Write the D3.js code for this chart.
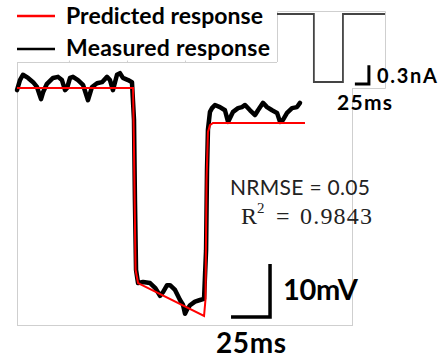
<!DOCTYPE html>
<meta charset="utf-8">

<style type="text/css">
	body { margin: 0; background: #fff; }
	svg { display: block; }
	.bold { font-family: Lato, "Open Sans", sans-serif; font-weight: 700; fill: #000; }
	.box { fill: none; stroke: #cfcfcf; stroke-width: 1; }
</style>

<body>
</body>

<script src="https://d3js.org/d3.v7.min.js"></script>

<script>

	// measured trace: time (ms) and membrane potential (mV)
	var measuredT = [0, 1.9, 3.8, 7.1, 10.3, 12.8, 15.4, 16.7, 19.2, 23.1, 26.3, 28.8, 30.8, 32.1, 34.0, 35.9, 39.1, 42.3, 45.5, 48.1,
		51.3, 54.5, 57.7, 59.6, 61.5, 64.1, 66.0, 67.9, 71.2, 73.7, 75.0, 75.6, 76.3, 77.6, 80.8, 85.3, 88.5, 91.7, 93.6, 96.2,
		98.1, 101.3, 104.5, 106.4, 107.7, 109.0, 110.9, 114.1, 117.3, 119.9, 121.2, 121.8, 122.4, 123.7, 125.0, 126.9, 130.1, 133.3, 135.3, 138.5,
		141.7, 144.2, 146.2, 149.4, 152.6, 154.5, 157.7, 160.3, 163.5, 166.7, 168.6, 170.5, 173.1, 176.3, 179.5, 181.4];
	var measuredV = [-65.4, -63.5, -62.5, -63.1, -63.9, -64.8, -67.1, -65.8, -64.2, -63.1, -62.9, -63.5, -65.4, -65.0, -63.1, -62.9, -63.5, -64.4, -67.3, -64.8,
		-64.1, -63.9, -62.9, -63.5, -65.4, -62.5, -62.2, -63.1, -63.5, -63.9, -71.0, -86.1, -99.3, -101.8, -101.6, -101.8, -102.7, -104.2, -103.5, -102.2,
		-102.2, -103.1, -105.0, -105.9, -107.6, -106.8, -106.0, -105.3, -105.0, -104.8, -95.6, -80.5, -72.9, -69.5, -68.8, -68.2, -68.6, -69.2, -71.4, -69.5,
		-68.8, -68.6, -68.2, -69.2, -70.1, -69.2, -67.8, -68.6, -69.2, -69.7, -71.4, -71.0, -69.7, -68.8, -68.6, -67.8];

	// predicted trace
	var predictedT = [0, 74.4, 75.0, 76.0, 77.6, 119.9, 120.8, 121.5, 122.4, 123.7, 125.6, 184.6];
	var predictedV = [-65, -65, -76.7, -99.3, -101.8, -108.0, -105.0, -82.4, -73.3, -72.0, -71.6, -71.6];

	// injected current (inset): time (ms) and current (nA)
	var stimT = [0, 71, 71, 127, 127, 208];
	var stimI = [0, 0, -1.05, -1.05, 0, 0];

	var legendLabels = ["Predicted response", "Measured response"];
	var legendColors = ["#ff0000", "#000000"];
	var topTicks = [33.3, 70.5, 107.7];

	var width = 443, height = 360;

	var svg = d3.select("body").append("svg")
		.attr("width", width)
		.attr("height", height);

	svg.append("rect").attr("width", width).attr("height", height).attr("fill", "#fff");

	// main panel
	var xScale = d3.scaleLinear().domain([0, 215]).range([17, 352.4]);
	var yScale = d3.scaleLinear().domain([-110, -60]).range([326.5, 61.5]);

	svg.append("rect").attr("class", "box")
		.attr("x", 17.5).attr("y", 62.5).attr("width", 335).attr("height", 263)
		.attr("fill", "#fff");

	var topAxis = svg.append("g")
		.attr("transform", "translate(0,62.5)")
		.call(d3.axisTop(xScale).tickValues(topTicks).tickSize(2).tickFormat(""));
	topAxis.select(".domain").remove();
	topAxis.selectAll("line").attr("stroke", "#cfcfcf");

	var line = d3.line()
		.x(function(d) { return xScale(d[0]); })
		.y(function(d) { return yScale(d[1]); });

	var measured = d3.zip(measuredT, measuredV);
	var predicted = d3.zip(predictedT, predictedV);

	svg.append("path")
		.datum(measured)
		.attr("d", line)
		.attr("fill", "none")
		.attr("stroke", "#000")
		.attr("stroke-width", 4.5)
		.attr("stroke-linejoin", "round")
		.attr("stroke-linecap", "round");

	svg.append("path")
		.datum(predicted)
		.attr("d", line)
		.attr("fill", "none")
		.attr("stroke", "#ff0000")
		.attr("stroke-width", 2);

	// scale bar 25ms / 10mV
	svg.append("path")
		.attr("d", "M" + xScale(162.2) + "," + yScale(-98.2) + "V" + yScale(-108.2) + "H" + xScale(137.2))
		.attr("fill", "none").attr("stroke", "#000").attr("stroke-width", 3.5);
	svg.append("text").attr("class", "bold")
		.attr("x", 283).attr("y", 300).style("font-size", "29px").attr("textLength", 75).text("10mV");
	svg.append("text").attr("class", "bold")
		.attr("x", 216).attr("y", 353).style("font-size", "28px").attr("textLength", 70).text("25ms");

	// fit statistics
	svg.append("text")
		.attr("x", 230).attr("y", 195)
		.style("font-family", "Lato, sans-serif").style("font-size", "21px").attr("fill", "#222")
		.attr("textLength", 140)
		.text("NRMSE = 0.05");
	var r2 = svg.append("g").style("font-family", "'Liberation Serif', serif").attr("fill", "#222");
	r2.append("text").attr("x", 241).attr("y", 224).style("font-size", "24px").text("R");
	r2.append("text").attr("x", 257).attr("y", 213).style("font-size", "15px").text("2");
	r2.append("text").attr("x", 276).attr("y", 224).style("font-size", "24px").text("=");
	r2.append("text").attr("x", 300).attr("y", 224).style("font-size", "24px")
		.attr("textLength", 72).text("0.9843");

	// inset: injected current
	var sx = d3.scaleLinear().domain([0, 208]).range([277, 385]);
	var sy = d3.scaleLinear().domain([-1.05, 0]).range([82, 14]);

	svg.append("rect").attr("x", 277).attr("y", 11).attr("width", 108).attr("height", 77).attr("fill", "#fff");
	svg.append("path").attr("class", "box").attr("d", "M277.5,62V11.5H385.5V88.5H352");

	svg.append("path")
		.datum(d3.zip(stimT, stimI))
		.attr("d", d3.line().x(function(d) { return sx(d[0]); }).y(function(d) { return sy(d[1]); }))
		.attr("fill", "none").attr("stroke", "#444").attr("stroke-width", 1.8);

	svg.append("path")
		.attr("d", "M" + sx(177) + "," + sy(-0.79) + "V" + sy(-1.08) + "H" + sx(150))
		.attr("fill", "none").attr("stroke", "#000").attr("stroke-width", 3);
	svg.append("text").attr("class", "bold")
		.attr("x", 377).attr("y", 83).style("font-size", "20px").attr("textLength", 60).text("0.3nA");
	svg.append("text").attr("class", "bold")
		.attr("x", 337).attr("y", 110).style("font-size", "21px").attr("textLength", 55).text("25ms");

	// legend
	var legend = svg.append("g");
	legend.selectAll("line").data(legendLabels).enter().append("line")
		.attr("x1", 17).attr("x2", 55)
		.attr("y1", function(d, i) { return 16 + i * 33; })
		.attr("y2", function(d, i) { return 16 + i * 33; })
		.attr("stroke", function(d, i) { return legendColors[i]; })
		.attr("stroke-width", 2.5);
	legend.selectAll("text").data(legendLabels).enter().append("text")
		.attr("class", "bold")
		.attr("x", 66)
		.attr("y", function(d, i) { return 24 + i * 32; })
		.style("font-size", "23px")
		.attr("textLength", function(d, i) { return i === 0 ? 197 : 204; })
		.text(function(d) { return d; });

</script>
